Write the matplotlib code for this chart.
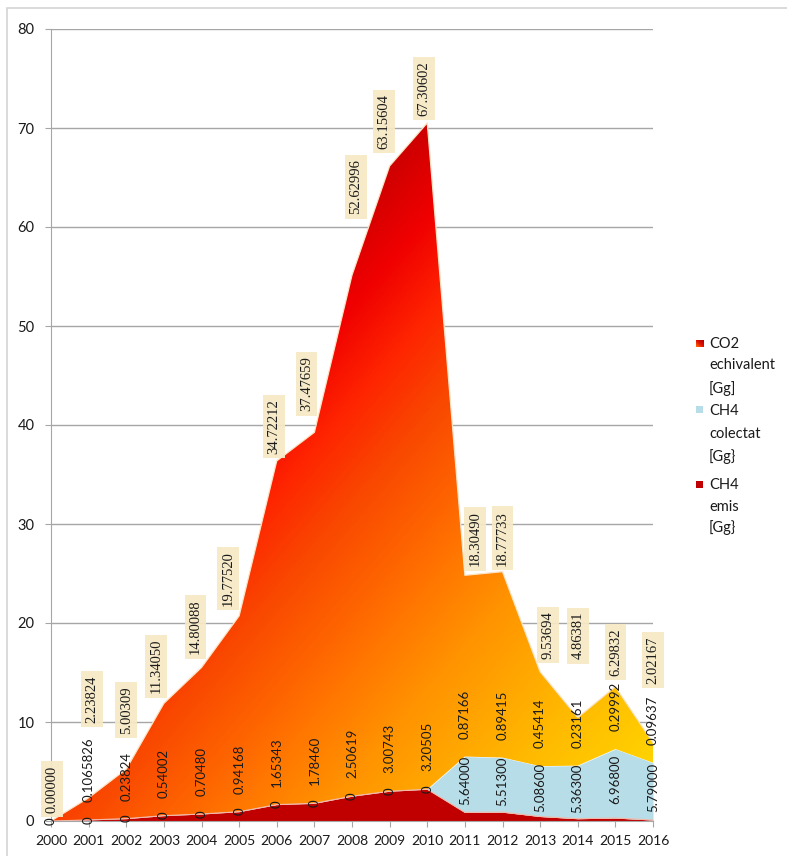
import numpy as np
import matplotlib
matplotlib.use("Agg")
import matplotlib.pyplot as plt
from matplotlib.colors import LinearSegmentedColormap
from matplotlib.patches import PathPatch, Rectangle

# ---- data -----------------------------------------------------------------
years = list(range(2000, 2017))

ch4_emis_txt = ["0", "0.1065826", "0.23824", "0.54002", "0.70480", "0.94168",
                "1.65343", "1.78460", "2.50619", "3.00743", "3.20505",
                "0.87166", "0.89415", "0.45414", "0.23161", "0.29992", "0.09637"]
ch4_colectat = [0, 0, 0, 0, 0, 0, 0, 0, 0, 0, 0,
                5.64, 5.513, 5.086, 5.363, 6.968, 5.79]
co2_echiv = [0.0, 2.23824, 5.00309, 11.34050, 14.80088, 19.77520, 34.72212,
             37.47659, 52.62996, 63.15604, 67.30602, 18.30490, 18.77733,
             9.53694, 4.86381, 6.29832, 2.02167]

ch4_emis = [float(s) for s in ch4_emis_txt]

legend_labels = [["CO2", "echivalent", "[Gg]"],
                 ["CH4", "colectat", "[Gg}"],
                 ["CH4", "emis", "[Gg}"]]

# label placement (pixels): shifts of the CO2 value boxes above the stack
co2_dx_px = [1, 3, 0, -8, -6, -11, -3, -8, 4, -6, -3, 10, 0, 8, 0, 0, 0]
co2_dy_px = [8, 75, 35, 10, 13, 10, 7, 21, 61, 17, 7, 9, 6, 13, 58, 11, 59]
emis_dy_px = 18

PX = 72 / 100.0  # points per pixel at dpi 100

# ---- figure ---------------------------------------------------------------
W, H = 787, 856
fig = plt.figure(figsize=(W / 100, H / 100), dpi=100)
fig.patch.set_facecolor("white")
ax = fig.add_axes([51 / W, 35 / H, 602 / W, 792 / H])

x = np.array(years, dtype=float)
e = np.array(ch4_emis)
c = np.array(ch4_colectat, dtype=float)
g = np.array(co2_echiv)
base2 = e + c
total = base2 + g

# stacked areas
ax.fill_between(x, 0, e, color="#C00000", lw=0, zorder=2)
ax.plot(x, e, color="#F2B9A8", lw=0.8, zorder=2.2)
ax.fill_between(x, e, base2, color="#B7DDE8", lw=0, zorder=2)

co2_poly = ax.fill_between(x, base2, total, color="none", lw=0, zorder=1)
path = co2_poly.get_paths()[0]
clip = PathPatch(path, transform=ax.transData, fc="none", ec="none")
ax.add_patch(clip)

# diagonal gradient (top-left dark red -> bottom-right yellow) over the shape's box
gx = np.linspace(2000, 2016, 500)
gy = np.linspace(0, 80, 500)
GX, GY = np.meshgrid(gx, gy)
top_max = total.max()
u = (GX - 2000) / 16.0
v = (top_max - GY) / top_max
t = np.clip((u + v) / 2.0, 0, 1)
grad_cmap = LinearSegmentedColormap.from_list(
    "co2grad",
    [(0.0, "#A00000"), (0.30, "#C80000"), (0.38, "#F00000"), (0.45, "#FF2400"),
     (0.52, "#F94600"), (0.62, "#FF6C00"), (0.72, "#FF9300"), (0.85, "#FFB900"),
     (1.0, "#FFDC00")])
im = ax.imshow(t, extent=[2000, 2016, 0, 80], origin="lower", aspect="auto",
               cmap=grad_cmap, vmin=0, vmax=1, zorder=1.5, interpolation="bilinear")
im.set_clip_path(clip)
ax.plot(x, total, color="#FBE3C4", lw=0.9, zorder=2.3)

# axes styling
ax.set_xlim(2000, 2016)
ax.set_ylim(0, 80)
ax.set_yticks(range(0, 81, 10))
ax.set_xticks(years)
ax.set_xticklabels([str(y) for y in years])
ax.grid(axis="y", color="#A6A6A6", lw=1.0, zorder=0)
ax.set_axisbelow(True)
for side in ["top", "right"]:
    ax.spines[side].set_visible(False)
ax.spines["left"].set_color("#A6A6A6")
ax.spines["bottom"].set_color("#A6A6A6")
ax.tick_params(axis="y", length=4, color="#A6A6A6", pad=8, labelsize=10.5,
               labelcolor="#1a1a1a")
ax.tick_params(axis="x", length=4, color="#A6A6A6", pad=6, labelsize=10,
               labelcolor="#1a1a1a")
for lab in ax.get_xticklabels() + ax.get_yticklabels():
    lab.set_fontfamily("Lato")

# value labels
for i, yr in enumerate(years):
    ax.annotate(f"{co2_echiv[i]:.5f}", xy=(yr, total[i]),
                xytext=(co2_dx_px[i] * PX, co2_dy_px[i] * PX),
                textcoords="offset points", rotation=90, ha="center", va="bottom",
                fontfamily="Liberation Serif", fontsize=10.5, color="#1a1a1a",
                bbox=dict(boxstyle="square,pad=0.3", fc="#F6E9C4", ec="none", alpha=0.92),
                zorder=6, annotation_clip=False)
    if ch4_emis[i] != 0:
        ax.annotate(ch4_emis_txt[i], xy=(yr, base2[i]),
                    xytext=(0, emis_dy_px * PX), textcoords="offset points",
                    rotation=90, ha="center", va="bottom", fontfamily="Lato",
                    fontsize=9.5, color="#1a1a1a", zorder=6, annotation_clip=False)
    ctxt = "0" if ch4_colectat[i] == 0 else f"{ch4_colectat[i]:.5f}"
    cy = e[i] + c[i] / 2.0
    dy = 4 * PX if ch4_colectat[i] else 0
    ax.annotate(ctxt, xy=(yr, cy), xytext=(0, dy), textcoords="offset points",
                rotation=90, ha="center", va="center", fontfamily="Lato",
                fontsize=9.5, color="#1a1a1a", zorder=6, annotation_clip=False)

# legend
def fx(px):
    return px / W

def fy(py):
    return 1 - py / H

line_rows = [[343.5, 365.5, 388.5], [410.5, 434.5, 457], [485, 507, 528]]
marker_y = [343.5, 410, 484]
for k, (lines, rows) in enumerate(zip(legend_labels, line_rows)):
    for txt, ry in zip(lines, rows):
        fig.text(fx(709), fy(ry), txt, ha="left", va="center", fontfamily="Lato",
                 fontsize=10.5, color="#1a1a1a")

# markers
mk = 7
grad_ax = fig.add_axes([fx(696), fy(marker_y[0] + mk / 2), mk / W, mk / H])
mg = np.add.outer(np.linspace(0, 1, 8), np.linspace(0, 1, 8)) / 2
grad_ax.imshow(mg, cmap=LinearSegmentedColormap.from_list(
    "mk", ["#FF6A00", "#E01000", "#B00000"]), origin="lower", aspect="auto")
grad_ax.set_axis_off()
fig.patches.append(Rectangle((fx(696), fy(marker_y[1] + mk / 2)), mk / W, mk / H,
                             transform=fig.transFigure, fc="#B7DDE8", ec="none"))
fig.patches.append(Rectangle((fx(696), fy(marker_y[2] + mk / 2)), mk / W, mk / H,
                             transform=fig.transFigure, fc="#C00000", ec="none"))

# chart-area frame
fig.patches.append(Rectangle((fx(7), -0.1), 2, fy(8) + 0.1, transform=fig.transFigure,
                             fill=False, ec="#D4D4D4", lw=1.2))

fig.savefig("out.png", dpi=100)
